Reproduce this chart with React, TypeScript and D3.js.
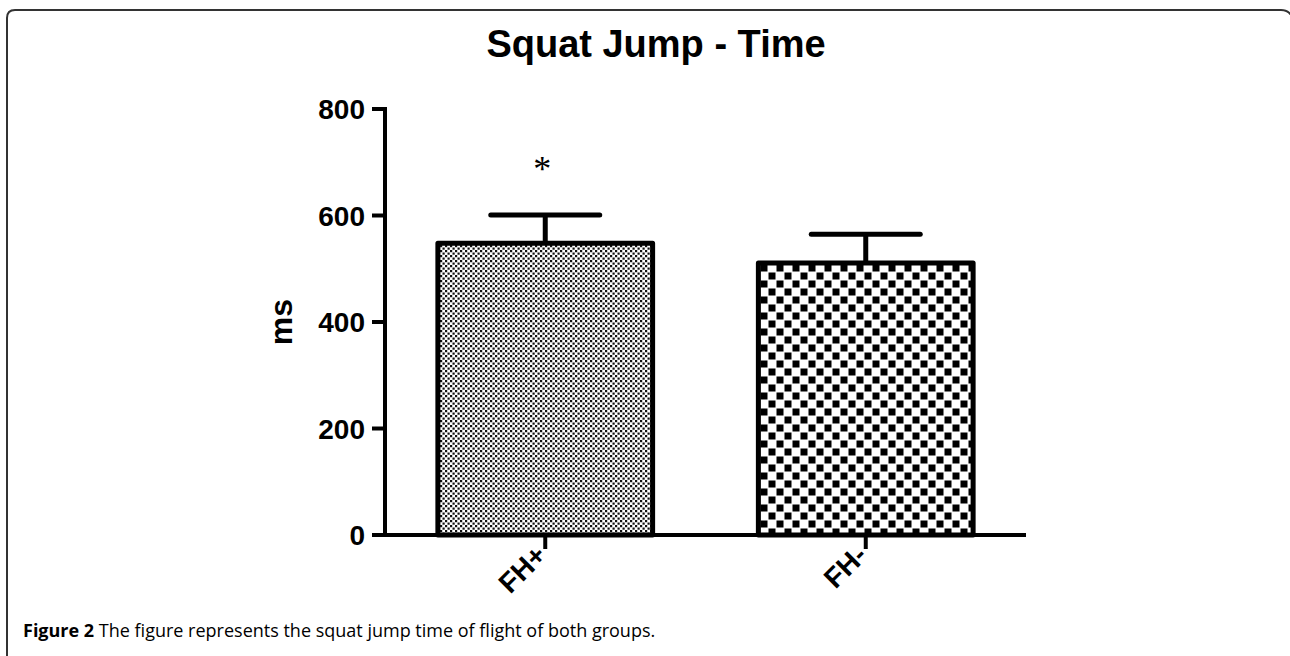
import React from 'react';
import * as d3 from 'd3';

// values
const groups = ['FH+', 'FH-'];
const means = [548, 511];
const errTops = [601, 565];
const patterns = ['fineCheck', 'coarseCheck'];
const yTicks = [0, 200, 400, 600, 800];

const W = 1290;
const H = 656;
const margin = { left: 385, right: 264, top: 109, bottom: 121 };

const App = () => {
  const x = d3
    .scalePoint<string>()
    .domain(groups)
    .range([margin.left, W - margin.right])
    .padding(0.5);

  const y = d3
    .scaleLinear()
    .domain([0, 800])
    .range([H - margin.bottom, margin.top]);

  const barW = x.step() * 0.67;
  const capW = x.step() * 0.34;
  const font = "'Liberation Sans', Arial, sans-serif";

  return (
    <div style={{ position: 'absolute', left: 0, top: 0 }}>
      <svg width={W} height={H} style={{ display: 'block', background: '#fff' }}>
        <defs>
          <pattern id="fineCheck" width={5} height={5} patternUnits="userSpaceOnUse">
            <rect width={5} height={5} fill="#fff" />
            <rect width={2.2} height={2.2} fill="#111" />
            <rect x={2.5} y={2.5} width={2.2} height={2.2} fill="#111" />
          </pattern>
          <pattern id="coarseCheck" width={16} height={16} patternUnits="userSpaceOnUse">
            <rect width={16} height={16} fill="#fff" />
            <rect x={0.5} y={0.5} width={7} height={7} fill="#000" />
            <rect x={8.5} y={8.5} width={7} height={7} fill="#000" />
          </pattern>
        </defs>

        {/* rounded frame, right side runs off the page */}
        <path
          d={`M7,${H} L7,18 Q7,10 15,10 L1281,10 Q1289,10 1293,18 L1293,${H}`}
          fill="none"
          stroke="#333"
          strokeWidth={2}
        />

        <text x={656} y={57} textAnchor="middle" fontFamily={font} fontWeight="bold" fontSize={38}>
          Squat Jump - Time
        </text>

        {/* bars */}
        {groups.map((g, i) => {
          const cx = x(g) as number;
          return (
            <g key={g}>
              <line
                x1={cx} x2={cx} y1={y(means[i])} y2={y(errTops[i])}
                stroke="#000" strokeWidth={5}
              />
              <line
                x1={cx - capW / 2} x2={cx + capW / 2} y1={y(errTops[i])} y2={y(errTops[i])}
                stroke="#000" strokeWidth={5} strokeLinecap="round"
              />
              <rect
                x={cx - barW / 2}
                y={y(means[i])}
                width={barW}
                height={y(0) - y(means[i])}
                fill={`url(#${patterns[i]})`}
                stroke="#000"
                strokeWidth={5}
                strokeLinejoin="round"
              />
            </g>
          );
        })}

        {/* significance mark */}
        <text
          x={(x('FH+') as number) - 3}
          y={y(errTops[0]) - 34}
          textAnchor="middle"
          fontFamily="'Liberation Serif', serif"
          fontSize={36}
        >
          *
        </text>

        {/* y axis */}
        <line x1={margin.left} x2={margin.left} y1={y(800) - 2} y2={y(0) + 2} stroke="#000" strokeWidth={4} />
        {yTicks.map(t => (
          <g key={t}>
            <line x1={margin.left - 13} x2={margin.left} y1={y(t)} y2={y(t)} stroke="#000" strokeWidth={4} />
            <text
              x={margin.left - 20}
              y={y(t)}
              dy="0.36em"
              textAnchor="end"
              fontFamily={font}
              fontWeight="bold"
              fontSize={28}
            >
              {t}
            </text>
          </g>
        ))}
        <text
          transform={`translate(${292},${y(400)}) rotate(-90)`}
          textAnchor="middle"
          fontFamily={font}
          fontWeight="bold"
          fontSize={32}
        >
          ms
        </text>

        {/* x axis */}
        <line x1={margin.left - 2} x2={W - margin.right} y1={y(0)} y2={y(0)} stroke="#000" strokeWidth={4} />
        {groups.map(g => {
          const cx = x(g) as number;
          return (
            <g key={g}>
              <line x1={cx} x2={cx} y1={y(0)} y2={y(0) + 14} stroke="#000" strokeWidth={4} />
              <text
                transform={`translate(${cx - 11},${y(0) + 8}) rotate(-45)`}
                textAnchor="end"
                dy="0.7em"
                fontFamily={font}
                fontWeight="bold"
                fontSize={28}
              >
                {g}
              </text>
            </g>
          );
        })}

        <text x={23} y={637} fontFamily="'Open Sans', sans-serif" fontSize={18}>
          <tspan fontWeight="bold">Figure 2</tspan>
          <tspan> The figure represents the squat jump time of flight of both groups.</tspan>
        </text>
      </svg>
    </div>
  );
};

export default App;
